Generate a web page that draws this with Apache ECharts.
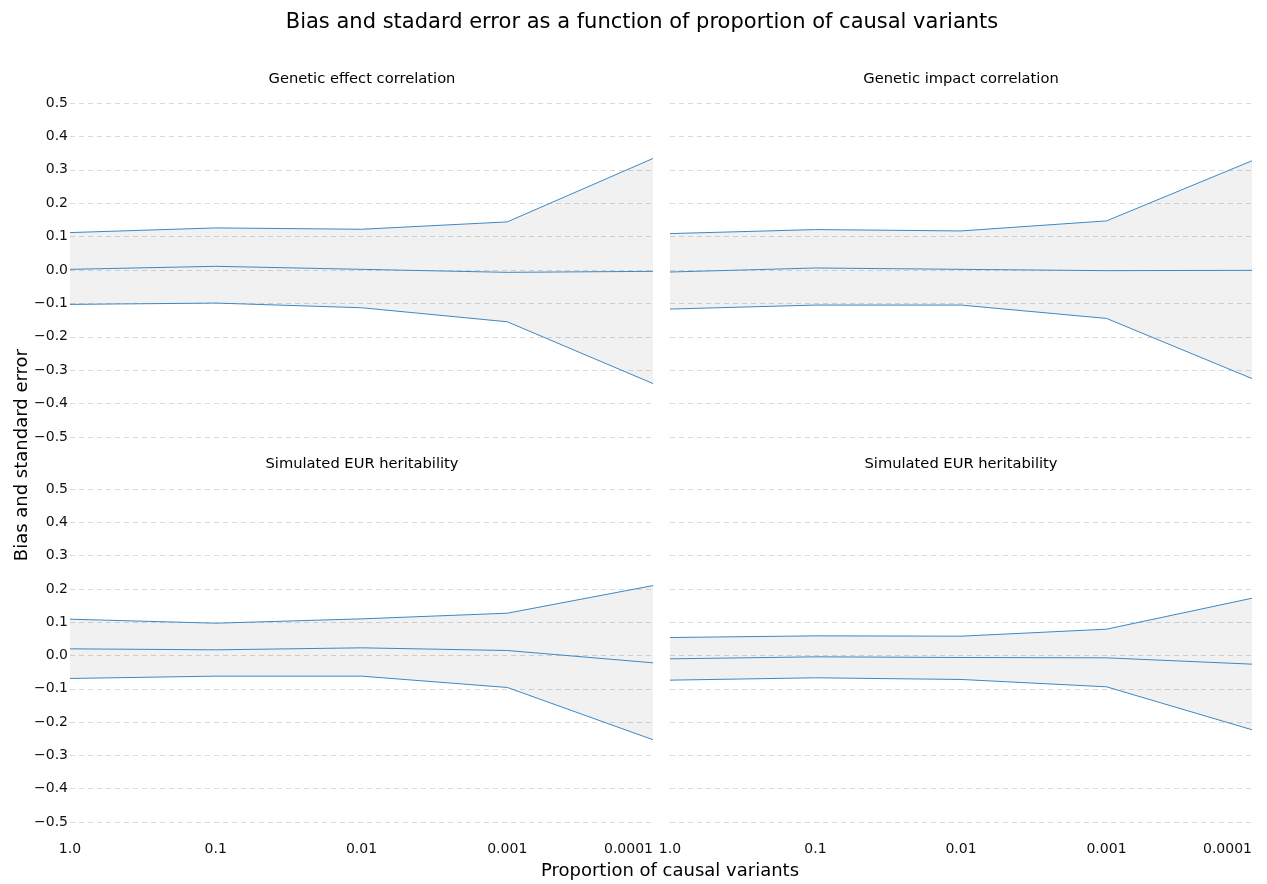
<!DOCTYPE html>
<html>
<head>
<meta charset="utf-8">
<script src="https://cdn.jsdelivr.net/npm/echarts@6/dist/echarts.min.js"></script>
<style>html,body{margin:0;padding:0;background:#fff}#c{width:1267px;height:884px}</style>
</head>
<body>
<div id="c"></div>
<script>
const categories = ['1.0', '0.1', '0.01', '0.001', '0.0001'];
const yTicks = [-0.5, -0.4, -0.3, -0.2, -0.1, 0.0, 0.1, 0.2, 0.3, 0.4, 0.5];
const panelTitles = ['Genetic effect correlation', 'Genetic impact correlation', 'Simulated EUR heritability', 'Simulated EUR heritability'];

const tlUpper = [0.112, 0.126, 0.122, 0.144, 0.334];
const tlMid   = [0.002, 0.011, 0.002, -0.007, -0.004];
const tlLower = [-0.103, -0.099, -0.113, -0.155, -0.340];

const trUpper = [0.109, 0.121, 0.117, 0.147, 0.327];
const trMid   = [-0.006, 0.006, 0.002, -0.002, -0.001];
const trLower = [-0.117, -0.105, -0.105, -0.145, -0.325];

const blUpper = [0.109, 0.097, 0.110, 0.127, 0.210];
const blMid   = [0.020, 0.017, 0.023, 0.015, -0.022];
const blLower = [-0.069, -0.062, -0.062, -0.096, -0.253];

const brUpper = [0.054, 0.059, 0.058, 0.079, 0.172];
const brMid   = [-0.010, -0.004, -0.006, -0.007, -0.026];
const brLower = [-0.074, -0.067, -0.072, -0.094, -0.223];

const panels = [
  {upper: tlUpper, mid: tlMid, lower: tlLower},
  {upper: trUpper, mid: trMid, lower: trLower},
  {upper: blUpper, mid: blMid, lower: blLower},
  {upper: brUpper, mid: brMid, lower: brLower}
];

const FONT = 'DejaVu Sans';
const LINE = '#3f88c2';
const gridPos = [
  {left: 70, width: 583, top: 103, height: 334},
  {left: 670, width: 582, top: 103, height: 334},
  {left: 70, width: 583, top: 489, height: 333},
  {left: 670, width: 582, top: 489, height: 333}
];

const fmt = v => {
  const r = Math.round(v * 10) / 10;
  return r < 0 ? '\u2212' + Math.abs(r).toFixed(1) : r.toFixed(1);
};

const grid = gridPos.map(g => Object.assign({containLabel: false}, g));
const xAxis = gridPos.map((g, i) => ({
  type: 'category', gridIndex: i, data: categories, boundaryGap: false,
  axisLine: {show: false}, axisTick: {show: false},
  axisLabel: {show: i >= 2, fontFamily: FONT, fontSize: 14, color: '#111', margin: 20, alignMaxLabel: 'right'},
  splitLine: {show: false}
}));
const yAxis = gridPos.map((g, i) => ({
  type: 'value', gridIndex: i, min: -0.5, max: 0.5, interval: 0.1,
  axisLine: {show: false}, axisTick: {show: false},
  axisLabel: {show: i % 2 === 0, fontFamily: FONT, fontSize: 14, color: '#111', margin: 2, formatter: fmt},
  splitLine: {show: true, lineStyle: {color: '#d9d9d9', type: [5, 4], width: 1}}
}));

const series = [];
panels.forEach((p, i) => {
  const band = p.upper.map((u, k) => +(u - p.lower[k]).toFixed(4));
  const stack = 'band' + i;
  series.push({
    type: 'line', xAxisIndex: i, yAxisIndex: i, data: p.lower, stack: stack, stackStrategy: 'all',
    symbol: 'none', lineStyle: {color: LINE, width: 1}, silent: true, z: 3
  });
  series.push({
    type: 'line', xAxisIndex: i, yAxisIndex: i, data: band, stack: stack, stackStrategy: 'all',
    symbol: 'none', lineStyle: {color: LINE, width: 1},
    areaStyle: {color: 'rgba(0,0,0,0.055)', opacity: 1}, silent: true, z: 2
  });
  series.push({
    type: 'line', xAxisIndex: i, yAxisIndex: i, data: p.mid,
    symbol: 'none', lineStyle: {color: LINE, width: 1}, silent: true, z: 3
  });
});

const titles = [
  {text: 'Bias and stadard error as a function of proportion of causal variants', left: 637, top: 7, textAlign: 'center',
   textStyle: {fontFamily: FONT, fontSize: 21, fontWeight: 'normal', color: '#000'}}
];
const titlePos = [[357, 67], [956, 67], [357, 452], [956, 452]];
panelTitles.forEach((t, i) => titles.push({
  text: t, left: titlePos[i][0], top: titlePos[i][1], textAlign: 'center',
  textStyle: {fontFamily: FONT, fontSize: 14.7, fontWeight: 'normal', color: '#000'}
}));

const chart = echarts.init(document.getElementById('c'), null, {renderer: 'canvas'});
chart.setOption({
  animation: false,
  backgroundColor: '#fff',
  title: titles,
  grid: grid, xAxis: xAxis, yAxis: yAxis, series: series,
  graphic: [
    {type: 'text', left: 13, top: 349, rotation: Math.PI / 2,
     style: {text: 'Bias and standard error', font: '18px "DejaVu Sans"', fill: '#000'}},
    {type: 'text', x: 670, y: 871,
     style: {text: 'Proportion of causal variants', font: '18px "DejaVu Sans"', fill: '#000', textAlign: 'center', textVerticalAlign: 'middle'}}
  ]
});
</script>
</body>
</html>
